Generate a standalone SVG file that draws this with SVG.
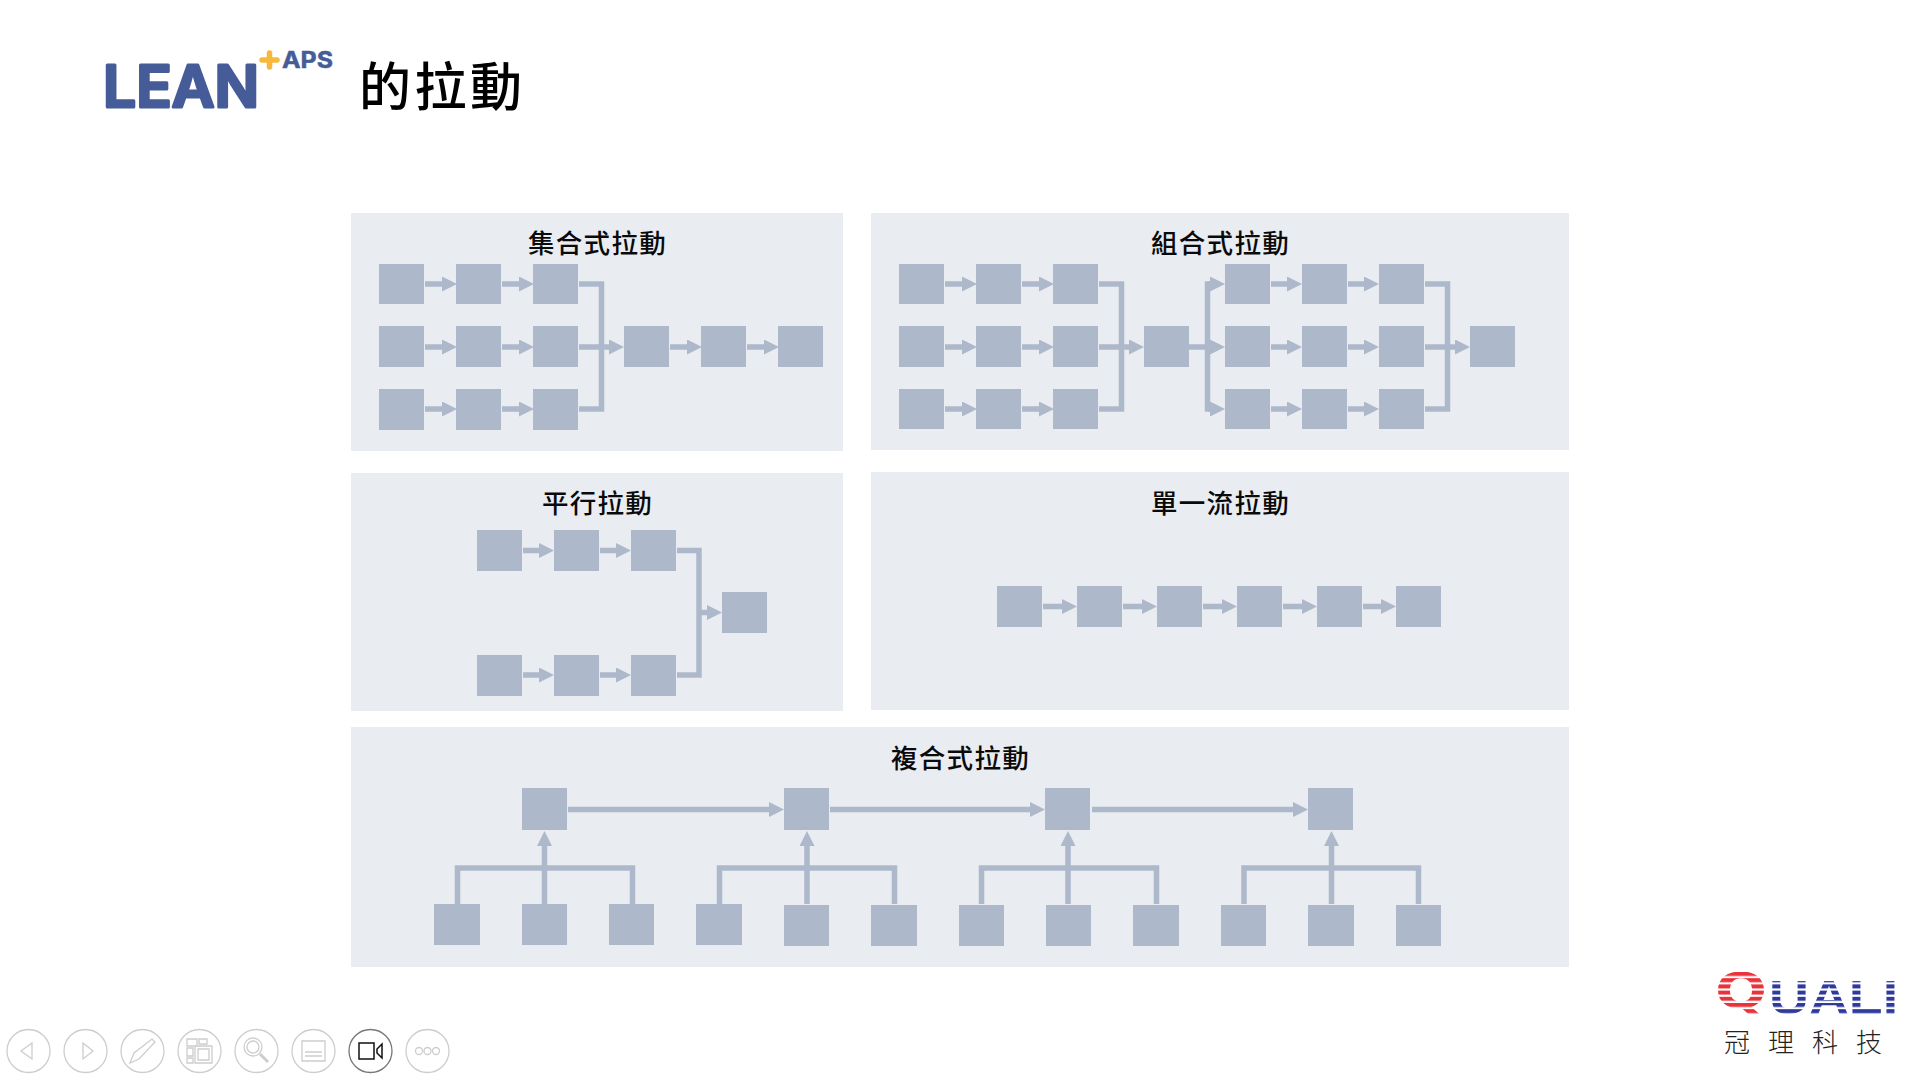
<svg xmlns="http://www.w3.org/2000/svg" width="1919" height="1079" viewBox="0 0 1919 1079">
<style>
.panel{fill:#e9ecf1}
.node{fill:#adb9cb}
.c{fill:none;stroke:#adb9cb;stroke-width:5.500}
.a{marker-end:url(#arrow)}
.t{font-family:"Liberation Sans","Noto Sans CJK TC",sans-serif;font-size:26.500px;font-weight:500;letter-spacing:1.300px;fill:#0a0a0a;text-anchor:middle}
.ui{fill:none;stroke:#cdcdcd;stroke-width:1.3}
</style>
<defs>
<marker id="arrow" markerUnits="userSpaceOnUse" markerWidth="15" markerHeight="15" viewBox="0 0 15 15" refX="1" refY="7.5" orient="auto"><path d="M0 0L15 7.5L0 15z" fill="#adb9cb"/></marker>
<pattern id="sr" patternUnits="userSpaceOnUse" width="6" height="6.2" y="972"><rect width="6" height="4" fill="#e8333a"/></pattern>
<pattern id="sb" patternUnits="userSpaceOnUse" width="6" height="6.2" y="972"><rect width="6" height="4" fill="#2f3a9e"/></pattern>
</defs>
<rect width="1919" height="1079" fill="#fff"/>
<g id="logo">
<text x="103" y="107" font-family="Inter,'Liberation Sans',sans-serif" font-size="58" font-weight="600" fill="#455c98" stroke="#455c98" stroke-width="3" stroke-linejoin="round" textLength="156" lengthAdjust="spacingAndGlyphs">LEAN</text>
<path d="M262 60H277M269.500 53V67" stroke="#f6b93b" stroke-width="5.500" stroke-linecap="round" fill="none"/>
<text x="282" y="68" font-family="Inter,'Liberation Sans',sans-serif" font-size="23" font-weight="700" fill="#455c98" stroke="#455c98" stroke-width=".5" textLength="51" lengthAdjust="spacingAndGlyphs">APS</text>
</g>
<text id="title" x="359" y="106" font-family="'Liberation Sans','Noto Sans CJK TC',sans-serif" font-size="52" font-weight="500" letter-spacing="3.500" fill="#000">的拉動</text>
<g id="panels">
<rect class="panel" x="351" y="213" width="492" height="238"/>
<rect class="panel" x="871" y="213" width="698" height="237"/>
<rect class="panel" x="351" y="473" width="492" height="238"/>
<rect class="panel" x="871" y="472" width="698" height="238"/>
<rect class="panel" x="351" y="727" width="1218" height="240"/>
</g>
<g id="labels">
<text class="t" x="597.500" y="253">集合式拉動</text>
<text class="t" x="1220.500" y="253">組合式拉動</text>
<text class="t" x="597.500" y="513">平行拉動</text>
<text class="t" x="1220.500" y="513">單一流拉動</text>
<text class="t" x="960.500" y="768">複合式拉動</text>
</g>
<g id="connectors">
<!-- panel 1 -->
<path class="c a" d="M425 284H443"/><path class="c a" d="M502 284H520"/>
<path class="c a" d="M425 347H443"/><path class="c a" d="M502 347H520"/>
<path class="c a" d="M425 409H443"/><path class="c a" d="M502 409H520"/>
<path class="c" d="M579 284H601.500V409H579"/>
<path class="c a" d="M579 347H610"/>
<path class="c a" d="M670 347H688"/><path class="c a" d="M747 347H765"/>
<!-- panel 2 -->
<path class="c a" d="M945 284H963"/><path class="c a" d="M1022 284H1040"/>
<path class="c a" d="M945 347H963"/><path class="c a" d="M1022 347H1040"/>
<path class="c a" d="M945 409H963"/><path class="c a" d="M1022 409H1040"/>
<path class="c" d="M1099 284H1121.500V409H1099"/>
<path class="c a" d="M1099 347H1130"/>
<path class="c a" d="M1189 347H1211"/>
<path class="c" d="M1211 284H1207.500V409H1211"/>
<path class="c a" d="M1208 284H1211"/><path class="c a" d="M1208 409H1211"/>
<path class="c a" d="M1271 284H1288"/><path class="c a" d="M1348 284H1365"/>
<path class="c a" d="M1271 347H1288"/><path class="c a" d="M1348 347H1365"/>
<path class="c a" d="M1271 409H1288"/><path class="c a" d="M1348 409H1365"/>
<path class="c" d="M1425 284H1447.500V409H1425"/>
<path class="c a" d="M1425 347H1456"/>
<!-- panel 3 -->
<path class="c a" d="M523 550.500H540"/><path class="c a" d="M600 550.500H617"/>
<path class="c a" d="M523 675H540"/><path class="c a" d="M600 675H617"/>
<path class="c" d="M677 550.500H699V675H677"/>
<path class="c a" d="M699 612.500H708"/>
<!-- panel 4 -->
<path class="c a" d="M1043 606.500H1063"/><path class="c a" d="M1123 606.500H1143"/>
<path class="c a" d="M1203 606.500H1223"/><path class="c a" d="M1283 606.500H1303"/>
<path class="c a" d="M1363 606.500H1382"/>
<!-- panel 5 -->
<path class="c a" d="M568 809.500H770"/><path class="c a" d="M830 809.500H1031"/><path class="c a" d="M1092 809.500H1294"/>
<path class="c" d="M457.500 904V868H632.500V904"/><path class="c a" d="M544.500 904V845"/>
<path class="c" d="M719.500 904V868H894.500V904"/><path class="c a" d="M807 904V845"/>
<path class="c" d="M981.500 904V868H1156.500V904"/><path class="c a" d="M1068 904V845"/>
<path class="c" d="M1244 904V868H1418.500V904"/><path class="c a" d="M1331.500 904V845"/>
</g>
<g id="nodes" class="node">
<g id="p1-n1"><rect x="379" y="264" width="45" height="40"/></g>
<g id="p1-n2"><rect x="456" y="264" width="45" height="40"/></g>
<g id="p1-n3"><rect x="533" y="264" width="45" height="40"/></g>
<g id="p1-n4"><rect x="379" y="326" width="45" height="41"/></g>
<g id="p1-n5"><rect x="456" y="326" width="45" height="41"/></g>
<g id="p1-n6"><rect x="533" y="326" width="45" height="41"/></g>
<g id="p1-n7"><rect x="379" y="389" width="45" height="41"/></g>
<g id="p1-n8"><rect x="456" y="389" width="45" height="41"/></g>
<g id="p1-n9"><rect x="533" y="389" width="45" height="41"/></g>
<g id="p1-n10"><rect x="624" y="326" width="45" height="41"/></g>
<g id="p1-n11"><rect x="701" y="326" width="45" height="41"/></g>
<g id="p1-n12"><rect x="778" y="326" width="45" height="41"/></g>
<g id="p2-n1"><rect x="899" y="264" width="45" height="40"/></g>
<g id="p2-n2"><rect x="976" y="264" width="45" height="40"/></g>
<g id="p2-n3"><rect x="1053" y="264" width="45" height="40"/></g>
<g id="p2-n4"><rect x="899" y="326" width="45" height="41"/></g>
<g id="p2-n5"><rect x="976" y="326" width="45" height="41"/></g>
<g id="p2-n6"><rect x="1053" y="326" width="45" height="41"/></g>
<g id="p2-n7"><rect x="899" y="389" width="45" height="40"/></g>
<g id="p2-n8"><rect x="976" y="389" width="45" height="40"/></g>
<g id="p2-n9"><rect x="1053" y="389" width="45" height="40"/></g>
<g id="p2-n10"><rect x="1144" y="326" width="45" height="41"/></g>
<g id="p2-n11"><rect x="1225" y="264" width="45" height="40"/></g>
<g id="p2-n12"><rect x="1302" y="264" width="45" height="40"/></g>
<g id="p2-n13"><rect x="1379" y="264" width="45" height="40"/></g>
<g id="p2-n14"><rect x="1225" y="326" width="45" height="41"/></g>
<g id="p2-n15"><rect x="1302" y="326" width="45" height="41"/></g>
<g id="p2-n16"><rect x="1379" y="326" width="45" height="41"/></g>
<g id="p2-n17"><rect x="1225" y="389" width="45" height="40"/></g>
<g id="p2-n18"><rect x="1302" y="389" width="45" height="40"/></g>
<g id="p2-n19"><rect x="1379" y="389" width="45" height="40"/></g>
<g id="p2-n20"><rect x="1470" y="326" width="45" height="41"/></g>
<g id="p3-n1"><rect x="477" y="530" width="45" height="41"/></g>
<g id="p3-n2"><rect x="554" y="530" width="45" height="41"/></g>
<g id="p3-n3"><rect x="631" y="530" width="45" height="41"/></g>
<g id="p3-n4"><rect x="477" y="655" width="45" height="41"/></g>
<g id="p3-n5"><rect x="554" y="655" width="45" height="41"/></g>
<g id="p3-n6"><rect x="631" y="655" width="45" height="41"/></g>
<g id="p3-n7"><rect x="722" y="592" width="45" height="41"/></g>
<g id="p4-n1"><rect x="997" y="586" width="45" height="41"/></g>
<g id="p4-n2"><rect x="1077" y="586" width="45" height="41"/></g>
<g id="p4-n3"><rect x="1157" y="586" width="45" height="41"/></g>
<g id="p4-n4"><rect x="1237" y="586" width="45" height="41"/></g>
<g id="p4-n5"><rect x="1317" y="586" width="45" height="41"/></g>
<g id="p4-n6"><rect x="1396" y="586" width="45" height="41"/></g>
<g id="p5-n1"><rect x="522" y="788" width="45" height="42"/></g>
<g id="p5-n2"><rect x="784" y="788" width="45" height="42"/></g>
<g id="p5-n3"><rect x="1045" y="788" width="45" height="42"/></g>
<g id="p5-n4"><rect x="1308" y="788" width="45" height="42"/></g>
<g id="p5-n5"><rect x="434" y="904" width="46" height="41"/></g>
<g id="p5-n6"><rect x="522" y="904" width="45" height="41"/></g>
<g id="p5-n7"><rect x="609" y="904" width="45" height="41"/></g>
<g id="p5-n8"><rect x="696" y="904" width="46" height="41"/></g>
<g id="p5-n9"><rect x="784" y="905" width="45" height="41"/></g>
<g id="p5-n10"><rect x="871" y="905" width="46" height="41"/></g>
<g id="p5-n11"><rect x="959" y="905" width="45" height="41"/></g>
<g id="p5-n12"><rect x="1046" y="905" width="45" height="41"/></g>
<g id="p5-n13"><rect x="1133" y="905" width="46" height="41"/></g>
<g id="p5-n14"><rect x="1221" y="905" width="45" height="41"/></g>
<g id="p5-n15"><rect x="1308" y="905" width="46" height="41"/></g>
<g id="p5-n16"><rect x="1396" y="905" width="45" height="41"/></g>
</g>
<g id="quali">
<text x="1715" y="1008" font-family="'DejaVu Sans','Liberation Sans',sans-serif" font-size="50" font-weight="700" fill="url(#sr)" textLength="52" lengthAdjust="spacingAndGlyphs">Q</text>
<text x="1769" y="1014" font-family="'Liberation Sans',sans-serif" font-size="48" font-weight="700" fill="url(#sb)" textLength="129" lengthAdjust="spacingAndGlyphs">UALI</text>
<text y="1052" x="1724 1768 1812 1856" font-family="'Liberation Sans','Noto Sans CJK TC',sans-serif" font-size="26" font-weight="300" fill="#222">冠理科技</text>
</g>
<g id="toolbar">
<g class="ui">
<circle cx="28.500" cy="1051" r="21.500"/><path d="M32 1043L21 1051L32 1059z"/>
<circle cx="85.500" cy="1051" r="21.500"/><path d="M83 1043L93 1051L83 1059z"/>
<circle cx="142.500" cy="1051" r="21.500"/><path d="M130 1063L134 1053L152 1039L155 1042L139 1059z"/>
<circle cx="199.500" cy="1051" r="21.500"/><path d="M187 1039H197V1046H187zM199 1039H207V1044H199zM187 1048H193V1056H187zM187 1058H193V1063H187zM195 1046H212V1063H195zM198 1049H209V1060H198z"/>
<circle cx="256.500" cy="1051" r="21.500"/><circle cx="253" cy="1047" r="9"/><circle cx="253" cy="1047" r="6"/><path d="M260 1054L268 1062" stroke-width="3"/>
<circle cx="313.500" cy="1051" r="21.500"/><path d="M302 1041H325V1061H302zM305 1052H322M305 1056H322" />
<circle cx="427.500" cy="1051" r="21.500"/><circle cx="419" cy="1051" r="3.500"/><circle cx="427.500" cy="1051" r="3.500"/><circle cx="436" cy="1051" r="3.500"/>
</g>
<circle cx="370.500" cy="1051" r="21.500" fill="none" stroke="#777" stroke-width="1.300"/>
<path d="M359 1043H374V1059H359zM377 1049L382 1044V1058L377 1053z" fill="none" stroke="#111" stroke-width="1.500"/>
</g>
</svg>
